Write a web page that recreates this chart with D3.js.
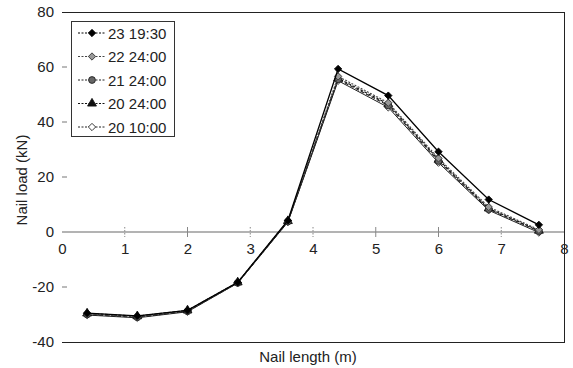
<!DOCTYPE html>
<html>
<head>
<meta charset="utf-8">
<script src="https://cdn.jsdelivr.net/npm/d3@7"></script>
<style>
  html, body { margin: 0; padding: 0; background: #fff; }
  svg { display: block; font-family: "Liberation Sans", Arial, sans-serif; }
</style>
</head>
<body>
<svg id="chart" width="573" height="368"></svg>
<script>
// Position along the nail (m)
const positions = [0.4, 1.2, 2.0, 2.8, 3.6, 4.4, 5.2, 6.0, 6.8, 7.6];

// Measured nail load (kN) per reading time
const seriesNames = ["23 19:30", "22 24:00", "21 24:00", "20 24:00", "20 10:00"];
const load_23_1930 = [-29.5, -30.5, -28.5, -18.3, 4.2, 59.3, 49.6, 29.2, 11.8, 2.6];
const load_22_2400 = [-29.8, -30.8, -28.6, -18.4, 4.0, 56.6, 47.0, 26.8, 9.1, 0.8];
const load_21_2400 = [-30.0, -31.0, -28.8, -18.5, 3.8, 55.5, 46.0, 25.8, 8.3, 0.3];
const load_20_2400 = [-29.6, -30.6, -28.5, -18.3, 4.0, 55.9, 46.5, 26.3, 8.6, 0.5];
const load_20_1000 = [-30.2, -31.2, -29.0, -18.6, 3.6, 55.0, 45.3, 25.2, 7.9, -0.2];
const seriesValues = [load_23_1930, load_22_2400, load_21_2400, load_20_2400, load_20_1000];

// Axis ticks
const xTicks = [0, 1, 2, 3, 4, 5, 6, 7, 8];
const yTicks = [-40, -20, 0, 20, 40, 60, 80];

const svg = d3.select("#chart");
const plotLeft = 62, plotRight = 564, plotTop = 12, plotBottom = 342;

const x = d3.scaleLinear().domain([0, 8]).range([plotLeft, plotRight]);
const y = d3.scaleLinear().domain([-40, 80]).range([plotBottom, plotTop]);

// Frame: top and bottom rules plus right border
svg.append("line").attr("x1", plotLeft).attr("x2", plotRight).attr("y1", y(80) + 0.5).attr("y2", y(80) + 0.5)
  .attr("stroke", "#222").attr("stroke-width", 1);
svg.append("line").attr("x1", plotLeft).attr("x2", plotRight).attr("y1", y(-40) + 0.5).attr("y2", y(-40) + 0.5)
  .attr("stroke", "#222").attr("stroke-width", 1);
svg.append("line").attr("x1", plotRight + 0.5).attr("x2", plotRight + 0.5).attr("y1", y(80)).attr("y2", y(-40) + 1)
  .attr("stroke", "#222").attr("stroke-width", 1);

// Zero line
svg.append("line").attr("x1", plotLeft).attr("x2", plotRight).attr("y1", y(0)).attr("y2", y(0))
  .attr("stroke", "#9a9a9a").attr("stroke-width", 1.6);

// Plain hyphen for negative labels
const fmt = d => String(d);

// Y axis: tick marks and labels
const yAxis = d3.axisLeft(y).tickValues(yTicks).tickSize(0).tickPadding(8).tickFormat(fmt);
const gy = svg.append("g").attr("transform", `translate(${plotLeft},0)`).call(yAxis);
gy.select(".domain").remove();
gy.selectAll("text").attr("font-size", 15).attr("fill", "#222")
  .attr("font-family", "'Liberation Sans', Arial, sans-serif");
svg.selectAll(".ytick").data(yTicks.filter(d => d !== 80 && d !== -40 && d !== 0)).enter()
  .append("line").attr("class", "ytick")
  .attr("x1", plotLeft).attr("x2", plotLeft + 5).attr("y1", d => y(d)).attr("y2", d => y(d))
  .attr("stroke", "#777").attr("stroke-width", 1);

// X axis labels below the zero line, ticks crossing it
const xAxis = d3.axisBottom(x).tickValues(xTicks).tickSize(0).tickPadding(11).tickFormat(fmt);
const gx = svg.append("g").attr("transform", `translate(0,${y(0)})`).call(xAxis);
gx.select(".domain").remove();
gx.selectAll("text").attr("font-size", 15).attr("fill", "#222")
  .attr("font-family", "'Liberation Sans', Arial, sans-serif");
svg.selectAll(".xtick").data(xTicks.filter(d => d > 0 && d < 8)).enter()
  .append("line").attr("class", "xtick")
  .attr("x1", d => x(d)).attr("x2", d => x(d)).attr("y1", y(0) - 5).attr("y2", y(0) + 5)
  .attr("stroke", "#888").attr("stroke-width", 1)
  .attr("stroke-dasharray", d => [2, 5, 6].includes(d) ? null : "1.5,1.5");

// Axis titles
svg.append("text").attr("x", (plotLeft + plotRight) / 2 - 5).attr("y", 362)
  .attr("text-anchor", "middle").attr("font-size", 15).attr("fill", "#222")
  .text("Nail length (m)");
svg.append("text").attr("transform", "translate(27,180) rotate(-90)")
  .attr("text-anchor", "middle").attr("font-size", 15).attr("fill", "#222")
  .text("Nail load (kN)");

// Series styles
const styles = [
  { stroke: "#000", dash: null, width: 1.3, marker: "diamond", fill: "#000", mstroke: "#000" },
  { stroke: "#444", dash: "2,1.5", width: 1.1, marker: "diamond", fill: "#999", mstroke: "#333" },
  { stroke: "#222", dash: "4,2", width: 1.1, marker: "circle", fill: "#666", mstroke: "#222" },
  { stroke: "#111", dash: "3,1.5", width: 1.1, marker: "triangle", fill: "#111", mstroke: "#111" },
  { stroke: "#222", dash: null, width: 1.0, marker: "diamond", fill: "#fff", mstroke: "#222" }
];
const symbolType = { diamond: d3.symbolDiamond2, circle: d3.symbolCircle, triangle: d3.symbolTriangle };
const symbolSize = { diamond: 34, circle: 36, triangle: 34 };

const line = d3.line().x(d => x(d[0])).y(d => y(d[1]));

// Draw series back-to-front so the latest reading is on top
seriesValues.map((vals, i) => ({ vals, i })).reverse().forEach(({ vals, i }) => {
  const st = styles[i];
  const pts = positions.map((p, k) => [p, vals[k]]);
  svg.append("path").datum(pts).attr("d", line)
    .attr("fill", "none").attr("stroke", st.stroke).attr("stroke-width", st.width)
    .attr("stroke-dasharray", st.dash);
  svg.append("g").selectAll("path").data(pts).enter().append("path")
    .attr("transform", d => `translate(${x(d[0])},${y(d[1])})`)
    .attr("d", d3.symbol().type(symbolType[st.marker]).size(symbolSize[st.marker]))
    .attr("fill", st.fill).attr("stroke", st.mstroke).attr("stroke-width", 0.9);
});

// Legend
const lg = svg.append("g");
lg.append("rect").attr("x", 71.5).attr("y", 21.5).attr("width", 103).attr("height", 115)
  .attr("fill", "#fff").attr("stroke", "#333").attr("stroke-width", 1);
seriesNames.forEach((name, i) => {
  const st = styles[i];
  const cy = 33 + i * 23.5;
  lg.append("line").attr("x1", 78).attr("x2", 105).attr("y1", cy).attr("y2", cy)
    .attr("stroke", st.stroke).attr("stroke-width", 1).attr("stroke-dasharray", "2,1.5");
  lg.append("path").attr("transform", `translate(92,${cy})`)
    .attr("d", d3.symbol().type(symbolType[st.marker]).size(symbolSize[st.marker]))
    .attr("fill", st.fill).attr("stroke", st.mstroke).attr("stroke-width", 0.9);
  lg.append("text").attr("x", 108).attr("y", cy + 5.5).attr("font-size", 15).attr("fill", "#222")
    .text(name);
});
</script>
</body>
</html>
